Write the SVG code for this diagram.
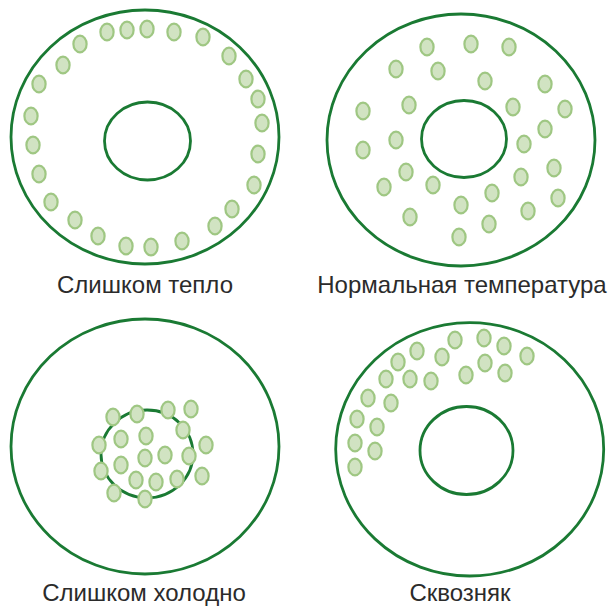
<svg xmlns="http://www.w3.org/2000/svg" width="612" height="607" viewBox="0 0 612 607">
<style>
.ring{fill:none;stroke:#1a7a33;stroke-width:2.8}
.d{fill:#d1e3c2;stroke:#9fc783;stroke-width:2.2}
.lbl{font-family:"Liberation Sans","DejaVu Sans",sans-serif;font-size:24px;fill:#2b2b2b;text-anchor:middle}
</style>
<defs>
<ellipse id="dot" class="d" cx="0" cy="0" rx="6.6" ry="8.4"/>
</defs>
<rect width="612" height="607" fill="#ffffff"/>

<g id="warm">
<ellipse class="ring" cx="145" cy="137" rx="134" ry="127"/>
<ellipse class="ring" cx="147.5" cy="141" rx="43" ry="39"/>
<g>
<use href="#dot" x="107" y="32"/><use href="#dot" x="127" y="30"/><use href="#dot" x="147" y="29"/>
<use href="#dot" x="174" y="32"/><use href="#dot" x="203" y="37"/><use href="#dot" x="229" y="56"/>
<use href="#dot" x="246" y="79"/><use href="#dot" x="258" y="99"/><use href="#dot" x="262" y="123"/>
<use href="#dot" x="258" y="154"/><use href="#dot" x="254" y="185"/><use href="#dot" x="232" y="209"/>
<use href="#dot" x="215" y="226"/><use href="#dot" x="182" y="241"/><use href="#dot" x="151" y="247"/>
<use href="#dot" x="126" y="246"/><use href="#dot" x="98" y="236"/><use href="#dot" x="75" y="220"/>
<use href="#dot" x="51" y="202"/><use href="#dot" x="39" y="174"/><use href="#dot" x="33" y="145"/>
<use href="#dot" x="31" y="116"/><use href="#dot" x="39" y="84"/><use href="#dot" x="63" y="65"/>
<use href="#dot" x="80" y="44"/>
</g>
<text class="lbl" x="145" y="293">Слишком тепло</text>
</g>

<g id="normal">
<ellipse class="ring" cx="461" cy="140" rx="134" ry="126"/>
<ellipse class="ring" cx="464" cy="139" rx="42.5" ry="38.5"/>
<g>
<use href="#dot" x="427" y="47"/><use href="#dot" x="471" y="44"/><use href="#dot" x="509" y="47"/>
<use href="#dot" x="396" y="69"/><use href="#dot" x="438" y="71"/><use href="#dot" x="485" y="81"/>
<use href="#dot" x="545" y="84"/><use href="#dot" x="363" y="111"/><use href="#dot" x="409" y="105"/>
<use href="#dot" x="513" y="107"/><use href="#dot" x="565" y="109"/><use href="#dot" x="545" y="129"/>
<use href="#dot" x="396" y="140"/><use href="#dot" x="363" y="150"/><use href="#dot" x="524" y="144"/>
<use href="#dot" x="406" y="172"/><use href="#dot" x="554" y="168"/><use href="#dot" x="384" y="187"/>
<use href="#dot" x="433" y="185"/><use href="#dot" x="521" y="177"/><use href="#dot" x="492" y="193"/>
<use href="#dot" x="461" y="205"/><use href="#dot" x="558" y="198"/><use href="#dot" x="410" y="217"/>
<use href="#dot" x="528" y="211"/><use href="#dot" x="489" y="224"/><use href="#dot" x="459" y="237"/>
</g>
<text class="lbl" x="462" y="293">Нормальная температура</text>
</g>

<g id="cold">
<ellipse class="ring" cx="145" cy="446.5" rx="134" ry="127.5"/>
<ellipse class="ring" cx="147" cy="454" rx="46" ry="44"/>
<g>
<use href="#dot" x="113" y="417"/><use href="#dot" x="137" y="414"/><use href="#dot" x="168" y="410"/>
<use href="#dot" x="191" y="409"/><use href="#dot" x="183" y="430"/><use href="#dot" x="121" y="439"/>
<use href="#dot" x="146" y="436"/><use href="#dot" x="99" y="445"/><use href="#dot" x="206" y="445"/>
<use href="#dot" x="145" y="458"/><use href="#dot" x="165" y="455"/><use href="#dot" x="189" y="456"/>
<use href="#dot" x="121" y="465"/><use href="#dot" x="101" y="471"/><use href="#dot" x="136" y="480"/>
<use href="#dot" x="156" y="482"/><use href="#dot" x="177" y="479"/><use href="#dot" x="202" y="476"/>
<use href="#dot" x="114" y="493"/><use href="#dot" x="145" y="499"/>
</g>
<text class="lbl" x="144" y="601">Слишком холодно</text>
</g>

<g id="draft">
<ellipse class="ring" cx="469.7" cy="449.3" rx="134" ry="126.7"/>
<ellipse class="ring" cx="466.5" cy="450.5" rx="46.5" ry="44"/>
<g>
<use href="#dot" x="455" y="340"/><use href="#dot" x="484" y="338"/><use href="#dot" x="504" y="346"/>
<use href="#dot" x="527" y="356"/><use href="#dot" x="417" y="351"/><use href="#dot" x="442" y="357"/>
<use href="#dot" x="398" y="362"/><use href="#dot" x="485" y="363"/><use href="#dot" x="505" y="373"/>
<use href="#dot" x="466" y="375"/><use href="#dot" x="386" y="379"/><use href="#dot" x="410" y="379"/>
<use href="#dot" x="431" y="381"/><use href="#dot" x="368" y="398"/><use href="#dot" x="391" y="403"/>
<use href="#dot" x="357" y="419"/><use href="#dot" x="377" y="427"/><use href="#dot" x="355" y="443"/>
<use href="#dot" x="375" y="451"/><use href="#dot" x="355" y="467"/>
</g>
<text class="lbl" x="460" y="601">Сквозняк</text>
</g>
</svg>
